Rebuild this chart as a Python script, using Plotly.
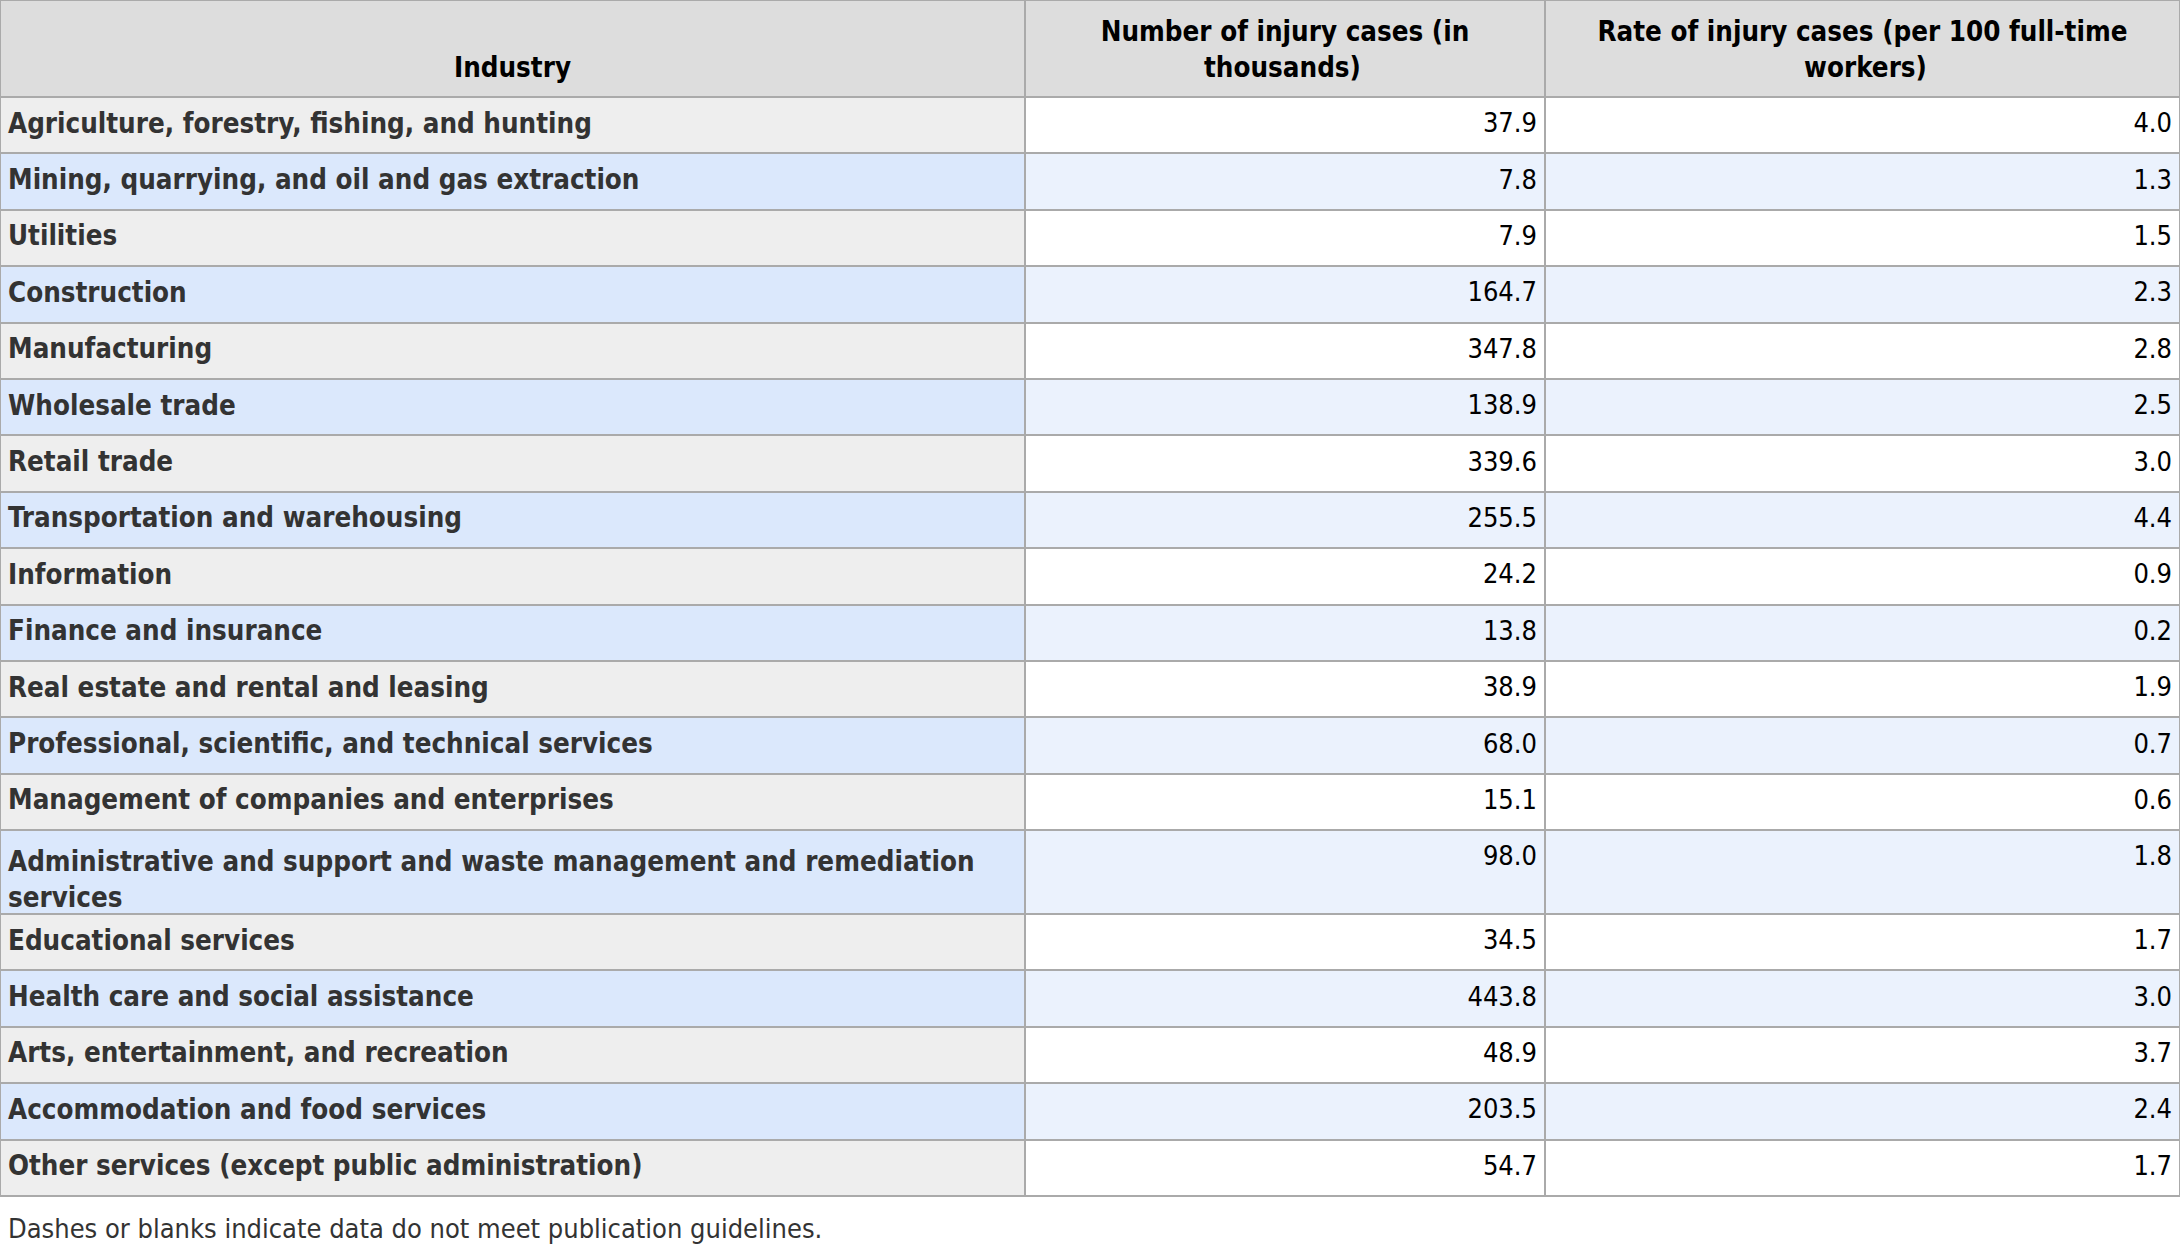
import plotly.graph_objects as go

industries = [
    "Agriculture, forestry, fishing, and hunting",
    "Mining, quarrying, and oil and gas extraction",
    "Utilities",
    "Construction",
    "Manufacturing",
    "Wholesale trade",
    "Retail trade",
    "Transportation and warehousing",
    "Information",
    "Finance and insurance",
    "Real estate and rental and leasing",
    "Professional, scientific, and technical services",
    "Management of companies and enterprises",
    "Administrative and support and waste management and remediation services",
    "Educational services",
    "Health care and social assistance",
    "Arts, entertainment, and recreation",
    "Accommodation and food services",
    "Other services (except public administration)",
]
injury_cases_thousands = [37.9, 7.8, 7.9, 164.7, 347.8, 138.9, 339.6, 255.5, 24.2, 13.8,
                          38.9, 68.0, 15.1, 98.0, 34.5, 443.8, 48.9, 203.5, 54.7]
injury_rate_per_100 = [4.0, 1.3, 1.5, 2.3, 2.8, 2.5, 3.0, 4.4, 0.9, 0.2,
                       1.9, 0.7, 0.6, 1.8, 1.7, 3.0, 3.7, 2.4, 1.7]
# header lines (second lines padded with no-break spaces so each line looks centred)
NB = "\u00a0"
header_lines = [
    (NB, "Industry"),
    ("Number of injury cases (in", NB * 12 + "thousands)"),
    ("Rate of injury cases (per 100 full-time", NB * 24 + "workers)"),
]
headers = ["<br>".join(pair) for pair in header_lines]
footnote = "Dashes or blanks indicate data do not meet publication guidelines."

FONT = "DejaVu Sans Condensed, DejaVu Sans, Verdana, sans-serif"
n = len(industries)
first_fill = ["#eeeeee" if i % 2 == 0 else "#dbe8fc" for i in range(n)]
val_fill = ["#ffffff" if i % 2 == 0 else "#ebf2fd" for i in range(n)]

fig = go.Figure(go.Table(
    domain=dict(x=[0, 1], y=[0, 1]),
    columnwidth=[1025, 520, 635],
    header=dict(
        values=headers,
        fill_color="#dddddd",
        line=dict(color="#aaaaaa", width=2),
        align="center",
        height=97,
        font=dict(family=FONT, size=27.5, color="#000000", weight=700),
    ),
    cells=dict(
        values=[industries,
                [f"{v:.1f}" for v in injury_cases_thousands],
                [f"{v:.1f}" for v in injury_rate_per_100]],
        fill_color=[first_fill, val_fill, val_fill],
        line=dict(color="#aaaaaa", width=2),
        align=["left", "right", "right"],
        height=56.4,
        font=dict(family=FONT, size=[27.5, 27, 27], color=["#333333", "#000000", "#000000"],
                  weight=[700, 400, 400]),
    ),
))
fig.add_annotation(text=footnote, x=0, y=(1256 - 1228) / 1256, xref="paper", yref="paper",
                   xanchor="left", yanchor="middle", xshift=6, showarrow=False,
                   font=dict(family=FONT, size=27, color="#333333"))
fig.update_layout(width=2180, height=1256, margin=dict(l=0, r=0, t=0, b=0),
                  paper_bgcolor="white")

post = (
    "document.body.style.margin='0';document.body.style.overflow='hidden';"
    "var s=document.createElement('style');"
    "s.textContent='.table .cell-text{transform:translateY(7px);}';"
    "document.head.appendChild(s);"
)
fig.write_html("out.html", config={"displayModeBar": False}, post_script=post)
